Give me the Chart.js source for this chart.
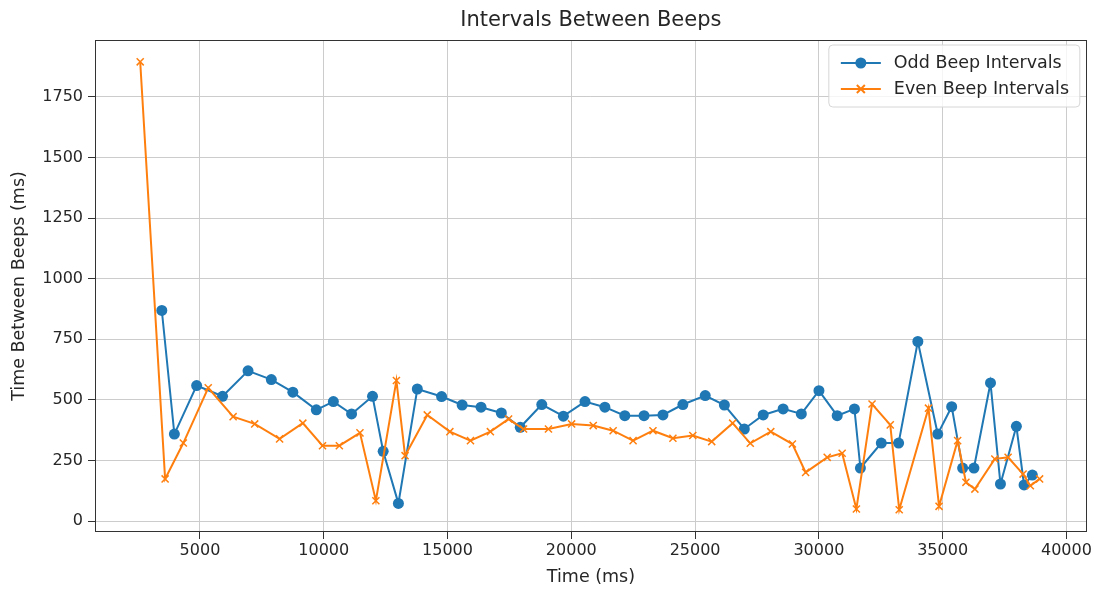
<!DOCTYPE html>
<html>
<head>
<meta charset="utf-8">
<title>Intervals Between Beeps</title>
<script src="https://cdn.jsdelivr.net/npm/chart.js@4.4.1/dist/chart.umd.min.js"></script>
<style>
  html, body { margin: 0; padding: 0; background: #ffffff; }
  #wrap { width: 1094px; height: 589px; position: relative; }
</style>
</head>
<body>
<div id="wrap"><canvas id="beepChart"></canvas></div>
<script>
// valeurs (ms)
const oddTimes = [3459, 3966, 4866, 5912, 6942, 7883, 8752, 9700, 10389, 11125,
  11970, 12400, 13016, 13780, 14761, 15590, 16354, 17174, 17938, 18807,
  19680, 20553, 21357, 22161, 22938, 23702, 24507, 25410, 26183, 26988,
  27752, 28556, 29292, 30004, 30741, 31437, 31678, 32522, 33222, 33998,
  34802, 35365, 35808, 36264, 36933, 37336, 37979, 38289, 38623];
const oddIntervals = [869, 359, 559, 515, 620, 584, 532, 459, 493, 442,
  515, 288, 73, 545, 514, 479, 470, 446, 387, 481,
  433, 493, 470, 435, 435, 438, 481, 518, 479, 380,
  438, 463, 442, 538, 435, 463, 219, 322, 322, 741,
  359, 472, 219, 219, 570, 153, 391, 149, 190];

const evenTimes = [2586, 3592, 4328, 5334, 6339, 7211, 8217, 9155, 9950, 10630,
  11463, 12106, 12935, 13285, 14182, 15095, 15927, 16731, 17467, 18071,
  19077, 20013, 20886, 21690, 22495, 23299, 24104, 24908, 25672, 26517,
  27229, 28058, 28931, 29466, 30337, 30941, 31516, 32148, 32884, 33246,
  34428, 34855, 35606, 35941, 36303, 37107, 37644, 38249, 38543, 38917];
const evenIntervals = [1895, 174, 322, 550, 431, 401, 339, 404, 311, 311,
  364, 84, 580, 270, 438, 369, 332, 369, 421, 380,
  380, 401, 394, 373, 332, 373, 342, 353, 328, 404,
  321, 369, 318, 201, 263, 280, 50, 483, 397, 47,
  466, 61, 332, 160, 132, 256, 263, 194, 146, 174];

const xTicks = [5000, 10000, 15000, 20000, 25000, 30000, 35000, 40000];
const yTicks = [0, 250, 500, 750, 1000, 1250, 1500, 1750];

const BLUE = '#1f77b4';
const ORANGE = '#ff7f0e';
const FONT = "'DejaVu Sans', sans-serif";

function toPoints(xs, ys) {
  var pts = [];
  for (var i = 0; i < xs.length; i++) {
    pts.push({ x: xs[i], y: ys[i] });
  }
  return pts;
}

// titre centré sur la zone du graphe + cadre + légende dans le coin
const deco = {
  id: 'deco',
  afterDraw(chart) {
    const ctx = chart.ctx;
    const a = chart.chartArea;
    ctx.save();

    // cadre
    ctx.strokeStyle = '#333333';
    ctx.lineWidth = 1;
    ctx.strokeRect(Math.round(a.left) + 0.5, Math.round(a.top) + 0.5,
      Math.round(a.right - a.left) - 1, Math.round(a.bottom - a.top) - 1);

    // titre
    ctx.fillStyle = '#262626';
    ctx.font = '21px ' + FONT;
    ctx.textAlign = 'center';
    ctx.textBaseline = 'middle';
    ctx.fillText('Intervals Between Beeps', (a.left + a.right) / 2, 21);

    // légende
    const bx = a.right - 258, by = a.top + 5, bw = 251, bh = 62;
    ctx.fillStyle = 'rgba(255,255,255,0.8)';
    ctx.strokeStyle = '#d6d6d6';
    ctx.beginPath();
    ctx.roundRect(bx, by, bw, bh, 4);
    ctx.fill();
    ctx.stroke();

    chart.data.datasets.forEach(function (ds, i) {
      const ly = by + 18 + i * 26;
      const lx = bx + 12;
      ctx.strokeStyle = ds.borderColor;
      ctx.lineWidth = 2;
      ctx.beginPath();
      ctx.moveTo(lx, ly);
      ctx.lineTo(lx + 40, ly);
      ctx.stroke();
      const mx = lx + 20;
      if (ds.pointStyle === 'circle') {
        ctx.fillStyle = ds.borderColor;
        ctx.beginPath();
        ctx.arc(mx, ly, 5.5, 0, Math.PI * 2);
        ctx.fill();
      } else {
        ctx.beginPath();
        ctx.moveTo(mx - 4, ly - 4); ctx.lineTo(mx + 4, ly + 4);
        ctx.moveTo(mx - 4, ly + 4); ctx.lineTo(mx + 4, ly - 4);
        ctx.stroke();
      }
      ctx.fillStyle = '#262626';
      ctx.font = '17.5px ' + FONT;
      ctx.textAlign = 'left';
      ctx.textBaseline = 'middle';
      ctx.fillText(ds.label, lx + 53, ly);
    });

    ctx.restore();
  }
};

const ctxBeep = document.getElementById('beepChart').getContext('2d');

const beepChart = new Chart(ctxBeep, {
  type: 'scatter',
  data: {
    datasets: [
      {
        label: 'Odd Beep Intervals',
        data: toPoints(oddTimes, oddIntervals),
        showLine: true,
        borderColor: BLUE,
        backgroundColor: BLUE,
        borderWidth: 2,
        pointStyle: 'circle',
        pointRadius: 5.5,
        pointBorderWidth: 0,
        order: 2
      },
      {
        label: 'Even Beep Intervals',
        data: toPoints(evenTimes, evenIntervals),
        showLine: true,
        borderColor: ORANGE,
        backgroundColor: ORANGE,
        borderWidth: 2,
        pointStyle: 'crossRot',
        pointRadius: 5,
        pointBorderWidth: 1.5,
        order: 1
      }
    ]
  },
  options: {
    responsive: true,
    maintainAspectRatio: false,
    animation: false,
    layout: { padding: { top: 40, right: 6, left: 0, bottom: 0 } },
    plugins: {
      legend: { display: false },
      title: { display: false },
      tooltip: { enabled: false }
    },
    scales: {
      x: {
        type: 'linear',
        min: 760,
        max: 40825,
        afterBuildTicks: function (scale) {
          scale.ticks = xTicks.map(function (v) { return { value: v }; });
        },
        afterFit: function (scale) { scale.height = 57; },
        border: { display: false },
        grid: { color: '#cccccc', tickColor: '#333333', tickLength: 7, lineWidth: 1 },
        ticks: {
          color: '#262626',
          font: { family: FONT, size: 16 },
          padding: 2,
          maxRotation: 0,
          callback: function (v) { return String(v); }
        },
        title: {
          display: true,
          text: 'Time (ms)',
          color: '#262626',
          font: { family: FONT, size: 17.5 },
          padding: { top: 0, bottom: 1 }
        }
      },
      y: {
        type: 'linear',
        min: -45,
        max: 1985,
        afterBuildTicks: function (scale) {
          scale.ticks = yTicks.map(function (v) { return { value: v }; });
        },
        afterFit: function (scale) { scale.width = 95; },
        border: { display: false },
        grid: { color: '#cccccc', tickColor: '#333333', tickLength: 7, lineWidth: 1 },
        ticks: {
          color: '#262626',
          font: { family: FONT, size: 16 },
          padding: 5,
          callback: function (v) { return String(v); }
        },
        title: {
          display: true,
          text: 'Time Between Beeps (ms)',
          color: '#262626',
          font: { family: FONT, size: 17.5 },
          padding: { top: 9, bottom: 0 }
        }
      }
    }
  },
  plugins: [deco]
});
</script>
</body>
</html>
